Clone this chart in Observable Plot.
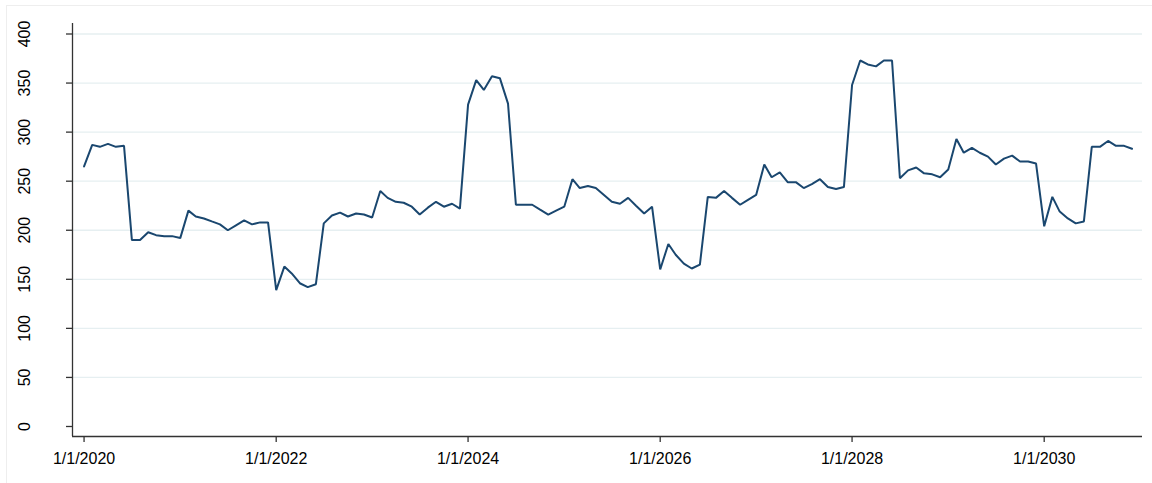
<!DOCTYPE html>
<html>
<head>
<meta charset="utf-8">
<script src="https://cdn.jsdelivr.net/npm/d3@7"></script>
<script src="https://cdn.jsdelivr.net/npm/@observablehq/plot@0.6"></script>
<style>
  html, body { margin: 0; padding: 0; background: #fff; }
  #wrap { position: relative; width: 1152px; height: 483px; overflow: hidden; }
  #edge { position: absolute; left: 6px; top: 5px; width: 1200px; height: 600px;
          border-top: 1px solid #eeeeee; border-left: 1px solid #eeeeee; pointer-events: none; }
  #chart { position: absolute; left: 0; top: 0; }
</style>
</head>
<body>
<div id="wrap"><div id="edge"></div><div id="chart"></div></div>
<script>
// Monthly series, January 2020 through December 2030
const startMonth = "2020-01-01";
const values = [
  265, 287, 285, 288, 285, 286, 190, 190, 198, 195, 194, 194,
  192, 220, 214, 212, 209, 206, 200, 205, 210, 206, 208, 208,
  139, 163, 156, 146, 142, 145, 207, 215, 218, 214, 217, 216,
  213, 240, 233, 229, 228, 224, 216, 223, 229, 224, 227, 222,
  328, 353, 343, 357, 355, 329, 226, 226, 226, 221, 216, 220,
  224, 252, 243, 245, 243, 236, 229, 227, 233, 225, 217, 224,
  160, 186, 175, 166, 161, 165, 234, 233, 240, 233, 226, 231,
  236, 267, 254, 259, 249, 249, 243, 247, 252, 244, 242, 244,
  348, 373, 369, 367, 373, 373, 253, 261, 264, 258, 257, 254,
  262, 293, 279, 284, 279, 275, 267, 273, 276, 270, 270, 268,
  204, 234, 219, 212, 207, 209, 285, 285, 291, 286, 286, 283
];
const yTicks = [0, 50, 100, 150, 200, 250, 300, 350, 400];
const xTickYears = [2020, 2022, 2024, 2026, 2028, 2030];

const start = new Date(startMonth);
const months = values.map((_, i) => d3.utcMonth.offset(start, i));
const data = months.map((date, i) => ({date, value: values[i]}));
const xTicks = xTickYears.map(y => new Date(Date.UTC(y, 0, 1)));
const fmtDate = d => `${d.getUTCMonth() + 1}/${d.getUTCDate()}/${d.getUTCFullYear()}`;

const xDomain = [new Date("2019-11-18"), new Date("2031-01-10")];
const yDomain = [-10.2, 410.7];
const axisColor = "#333";

const chart = Plot.plot({
  width: 1152,
  height: 483,
  marginLeft: 72,
  marginRight: 10,
  marginTop: 23,
  marginBottom: 47,
  style: {fontFamily: "'Liberation Sans', Arial, sans-serif", fontSize: "16px", background: "transparent", color: "#000"},
  x: {type: "utc", domain: xDomain, label: null},
  y: {domain: yDomain, label: null},
  marks: [
    Plot.gridY(yTicks.filter(d => d > 0), {stroke: "#e6eff1", strokeOpacity: 1, strokeWidth: 1.3}),
    Plot.ruleX([xDomain[0]], {stroke: axisColor, strokeWidth: 1.3}),
    Plot.ruleY([yDomain[0]], {stroke: axisColor, strokeWidth: 1.3}),
    Plot.axisY({ticks: yTicks, tickSize: 6, tickFormat: () => "", label: null, stroke: axisColor, strokeWidth: 1.3}),
    Plot.text(yTicks, {
      y: d => d, text: d => String(d), frameAnchor: "left", dx: -47.5,
      rotate: -90, textAnchor: "middle", lineAnchor: "middle", fontSize: 16, fill: "#000"
    }),
    Plot.axisX({ticks: xTicks, tickFormat: fmtDate, tickSize: 6, tickPadding: 10, label: null,
      stroke: axisColor, strokeWidth: 1.3, fontSize: 16, fill: "#000"}),
    Plot.line(data, {x: "date", y: "value", stroke: "#1a476f", strokeWidth: 2, strokeLinejoin: "miter"})
  ]
});
document.getElementById("chart").appendChild(chart);
</script>
</body>
</html>
